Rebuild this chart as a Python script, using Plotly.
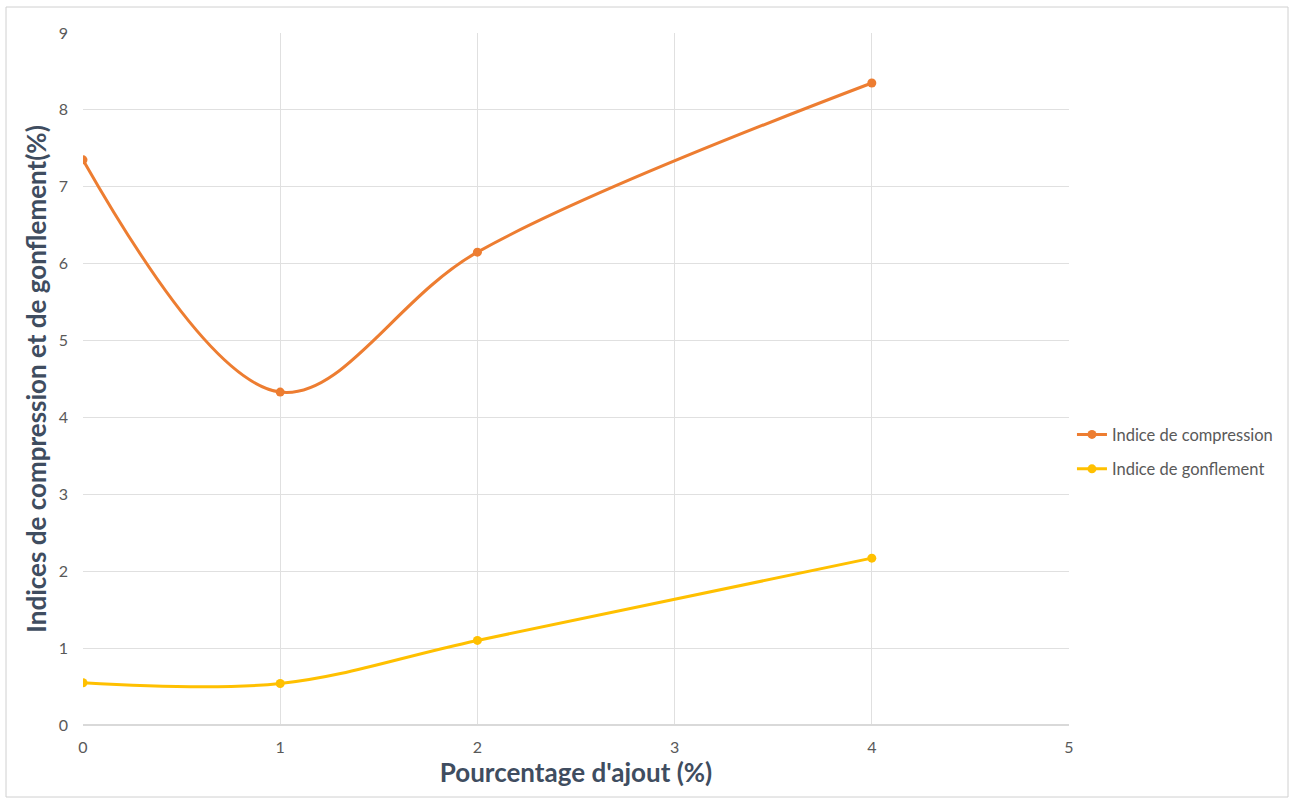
import plotly.graph_objects as go

x_vals = [0, 1, 2, 4]
compression = [7.35, 4.33, 6.15, 8.35]
gonflement = [0.55, 0.54, 1.1, 2.17]
x_ticks = [0, 1, 2, 3, 4, 5]
y_ticks = [0, 1, 2, 3, 4, 5, 6, 7, 8, 9]

fig = go.Figure()
fig.add_trace(go.Scatter(x=x_vals, y=compression, mode="lines+markers",
                         name="Indice de compression", legendgroup="a",
                         line=dict(color="#ED7D31", width=3, shape="spline", smoothing=1.0),
                         marker=dict(size=9, color="#ED7D31")))
fig.add_trace(go.Scatter(x=x_vals, y=gonflement, mode="lines+markers",
                         name="Indice de gonflement", legendgroup="b",
                         line=dict(color="#FFC000", width=3, shape="spline", smoothing=1.0),
                         marker=dict(size=9, color="#FFC000")))

L, R, T, B = 83, 221, 33, 76
W, H = 1290, 801
pw, ph = W - L - R, H - T - B

title_font = dict(size=26, color="#3F4D60", family="Lato, sans-serif", weight="bold")

fig.update_layout(
    width=W, height=H,
    margin=dict(l=L, r=R, t=T, b=B),
    paper_bgcolor="white", plot_bgcolor="white",
    font=dict(family="Lato, Open Sans, sans-serif", color="#595959"),
    xaxis=dict(range=[0, 5], tickvals=x_ticks, showgrid=True, gridcolor="#e0e0e0",
               zeroline=False, showline=False, ticks="", tickfont=dict(size=16, color="#595959"),
               ticklabelstandoff=11,
               title=dict(text="Pourcentage d'ajout (%)", font=title_font, standoff=4)),
    yaxis=dict(range=[0, 9], tickvals=y_ticks, showgrid=True, gridcolor="#e0e0e0",
               zeroline=True, zerolinecolor="#d9d9d9", showline=False, ticks="",
               tickfont=dict(size=16, color="#595959"), ticklabelstandoff=14,
               title=dict(text="Indices de compression et de gonflement(%)", font=title_font, standoff=4)),
    legend=dict(x=1.003, y=0.395, xanchor="left", yanchor="middle",
                font=dict(size=16.5, color="#595959"), tracegroupgap=10, bgcolor="rgba(0,0,0,0)"),
    shapes=[dict(type="rect", xref="paper", yref="paper",
                 x0=(6 - L) / pw, x1=(1288 - L) / pw,
                 y0=(H - B - 797) / ph, y1=(H - B - 7) / ph,
                 line=dict(color="#d0d0d0", width=1), fillcolor="rgba(0,0,0,0)", layer="below")],
)
fig.write_html("out.html")
